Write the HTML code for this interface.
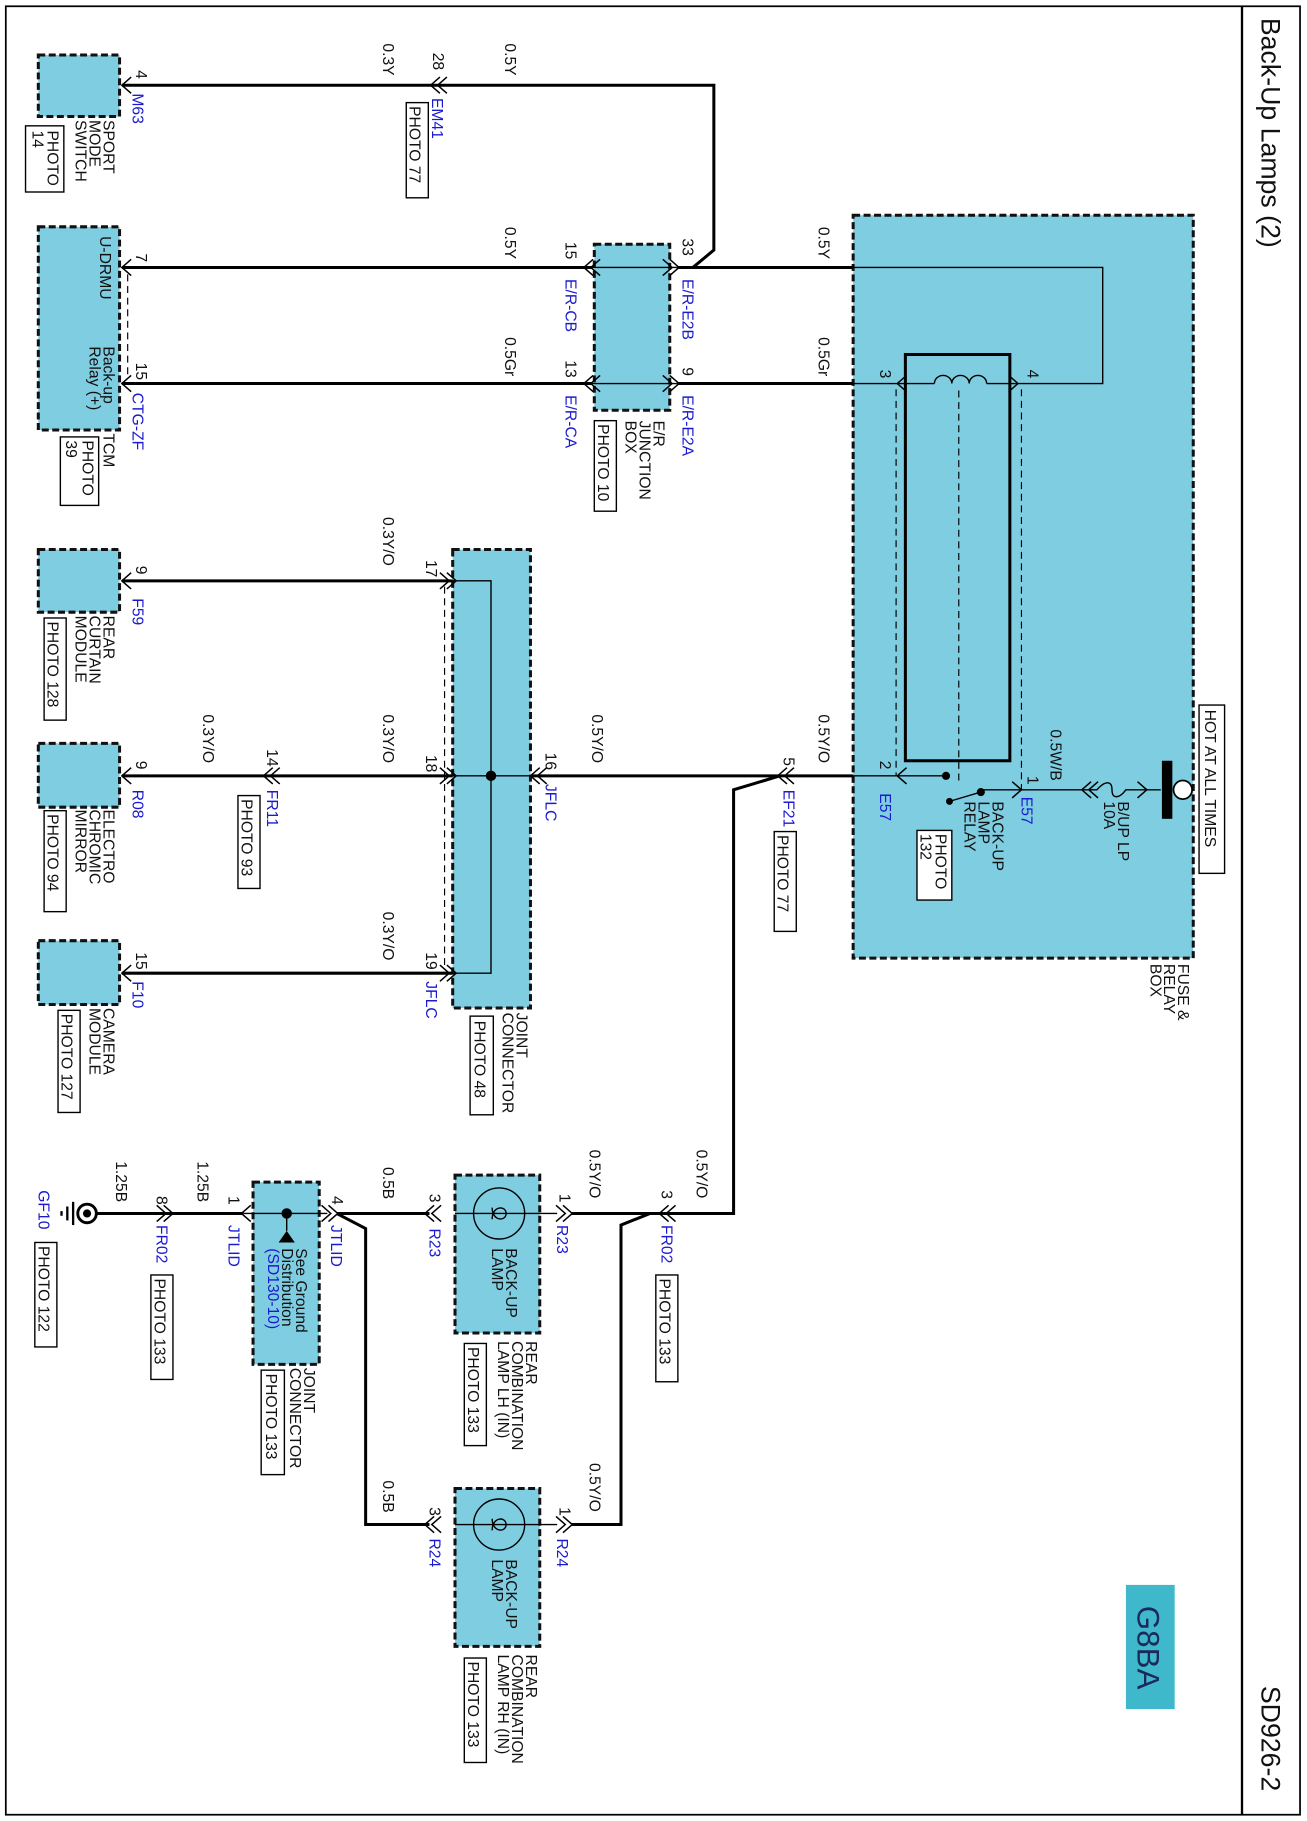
<!DOCTYPE html>
<html><head><meta charset="utf-8"><style>
html,body{margin:0;padding:0;background:#fff}
svg{display:block}
text{font-family:"Liberation Sans",sans-serif;font-size:13.5px;fill:#111}
.b{fill:#1a1ad0}
.box{fill:#7fcde1;stroke:#111;stroke-width:2.6;stroke-dasharray:6,3}
.w{fill:none;stroke:#000;stroke-width:2.6}
.t{fill:none;stroke:#000;stroke-width:1.2}
.d{fill:none;stroke:#000;stroke-width:1;stroke-dasharray:6,4}
.pb{fill:#fff;stroke:#000;stroke-width:1.2}
</style></head><body>
<svg width="1307" height="1821" viewBox="0 0 1126 1568" xmlns="http://www.w3.org/2000/svg">
<defs>
<path id="sl" d="M8,-7 L0,0 L8,7" fill="none" stroke="#000" stroke-width="1.3"/>
<path id="sr" d="M-8,-7 L0,0 L-8,7" fill="none" stroke="#000" stroke-width="1.3"/>
<path id="cl" d="M8,-7 L0,0 L8,7 M14,-7 L6,0 L14,7" fill="none" stroke="#000" stroke-width="1.3"/>
<path id="cr" d="M-8,-7 L0,0 L-8,7 M-14,-7 L-6,0 L-14,7" fill="none" stroke="#000" stroke-width="1.3"/>
</defs>
<rect x="5" y="5" width="1115" height="1558" fill="none" stroke="#000" stroke-width="1.5"/>
<line x1="1070" y1="5" x2="1070" y2="1563" stroke="#000" stroke-width="2"/>
<text transform="translate(1087,15) rotate(90)" style="font-size:23px">Back-Up Lamps (2)</text>
<text transform="translate(1087,1452) rotate(90)" style="font-size:23px">SD926-2</text>
<rect x="970" y="1365" width="42" height="107" fill="#3fb8cc"/>
<text transform="translate(980,1383) rotate(90)" style="font-size:27px;fill:#1a2a5a">G8BA</text>

<rect class="box" x="735" y="185" width="293" height="640"/>
<rect class="box" x="512" y="210" width="65" height="143"/>
<rect class="box" x="33" y="47" width="70" height="53"/>
<rect class="box" x="33" y="195" width="70" height="175"/>
<rect class="box" x="33" y="473" width="70" height="54"/>
<rect class="box" x="33" y="640" width="70" height="55"/>
<rect class="box" x="33" y="810" width="70" height="55"/>
<rect class="box" x="390" y="473" width="67" height="395"/>
<rect class="box" x="392" y="1012" width="73" height="136"/>
<rect class="box" x="392" y="1282" width="73" height="136"/>
<rect class="box" x="218" y="1018" width="57" height="157"/>

<path class="w" d="M105 73 L615 73 L615 215 L597 230"/>
<line class="w" x1="105" y1="230" x2="510" y2="230"/>
<line class="w" x1="583" y1="230" x2="735" y2="230"/>
<line class="w" x1="105" y1="330" x2="510" y2="330"/>
<line class="w" x1="583" y1="330" x2="735" y2="330"/>
<line class="t" x1="510" y1="230" x2="583" y2="230"/>
<line class="t" x1="510" y1="330" x2="583" y2="330"/>
<line class="d" x1="110" y1="236" x2="110" y2="324"/>
<path class="t" d="M735 230 L950 230 L950 330 L875 330"/>
<line class="t" x1="735" y1="330" x2="805" y2="330"/>
<line class="t" x1="850" y1="330" x2="875" y2="330"/>
<path class="t" d="M805 330 a7.5 7 0 0 1 15 0 a7.5 7 0 0 1 15 0 a7.5 7 0 0 1 15 0"/>
<rect x="780" y="305" width="90" height="350" fill="none" stroke="#000" stroke-width="2.6"/>
<line class="d" x1="772" y1="335" x2="772" y2="668"/>
<line class="d" x1="880" y1="335" x2="880" y2="680"/>
<line class="d" x1="826" y1="336" x2="826" y2="672"/>
<line class="t" x1="775" y1="668" x2="815" y2="668"/>
<line class="t" x1="818" y1="690" x2="845" y2="682"/>
<line class="t" x1="845" y1="680" x2="878" y2="680"/>
<circle cx="815" cy="668" r="3.5"/><circle cx="845" cy="682" r="3.5"/><circle cx="818" cy="690" r="3"/>
<line class="t" x1="878" y1="680" x2="930" y2="680"/>
<path class="t" d="M930 680 L945 680 C952 672 958 672 958 680 C958 688 964 688 970 680 L1000 680"/>
<use href="#cl" x="932" y="680"/><use href="#sr" x="988" y="680"/>
<rect x="1001" y="655" width="9" height="50" fill="#000"/>
<circle cx="1019" cy="680" r="8" fill="#fff" stroke="#000" stroke-width="1.5"/>
<line class="w" x1="105" y1="668" x2="390" y2="668"/>
<line class="w" x1="457" y1="668" x2="735" y2="668"/>
<line class="t" x1="735" y1="668" x2="775" y2="668"/>
<line class="t" x1="390" y1="668" x2="457" y2="668"/>
<line class="w" x1="105" y1="500" x2="390" y2="500"/>
<line class="w" x1="105" y1="838" x2="390" y2="838"/>
<path class="t" d="M385 500 L423 500 L423 838 L385 838"/>
<line class="d" x1="383" y1="505" x2="383" y2="833"/>
<circle cx="423" cy="668" r="4.5"/>
<path class="w" d="M672 668 L632 680 L632 1045 L572 1045"/>
<path class="w" d="M572 1045 L492 1045"/>
<path class="w" d="M560 1045 L535 1055 L535 1313 L492 1313"/>
<line class="t" x1="392" y1="1045" x2="480" y2="1045"/>
<line class="t" x1="392" y1="1313" x2="480" y2="1313"/>
<circle cx="430" cy="1045" r="22" fill="none" stroke="#000" stroke-width="1.2"/>
<circle cx="430" cy="1313" r="22" fill="none" stroke="#000" stroke-width="1.2"/>
<path class="t" d="M424 1040 C424 1052 436 1052 436 1045 C436 1038 424 1038 424 1050"/>
<path class="t" d="M424 1308 C424 1320 436 1320 436 1313 C436 1306 424 1306 424 1318"/>
<line class="w" x1="370" y1="1045" x2="290" y2="1045"/>
<path class="w" d="M290 1045 L315 1058 L315 1313 L370 1313"/>
<line class="t" x1="210" y1="1045" x2="282" y2="1045"/>
<circle cx="247" cy="1045" r="4.5"/>
<line class="t" x1="247" y1="1045" x2="247" y2="1060"/>
<path d="M247 1060 L240 1070 L254 1070 Z" fill="#000"/>
<line class="w" x1="83" y1="1045" x2="210" y2="1045"/>
<circle cx="75" cy="1045" r="8" fill="#fff" stroke="#000" stroke-width="2.5"/>
<circle cx="75" cy="1045" r="3.5"/>
<line x1="63" y1="1035" x2="63" y2="1055" stroke="#000" stroke-width="2"/>
<line x1="58" y1="1039" x2="58" y2="1051" stroke="#000" stroke-width="2"/>
<line x1="53" y1="1043" x2="53" y2="1047" stroke="#000" stroke-width="2"/>

<use href="#sl" x="105" y="73"/><use href="#cl" x="371" y="73"/>
<use href="#sl" x="105" y="230"/><use href="#sl" x="105" y="330"/>
<use href="#cl" x="503" y="230"/><use href="#cl" x="503" y="330"/>
<use href="#cr" x="585" y="230"/><use href="#cr" x="585" y="330"/>
<use href="#sl" x="773" y="330"/><use href="#sr" x="877" y="330"/>
<use href="#sl" x="773" y="668"/><use href="#sr" x="880" y="680"/>
<use href="#cl" x="670" y="668"/><use href="#cl" x="457" y="668"/>
<use href="#cr" x="393" y="500"/><use href="#cr" x="393" y="668"/><use href="#cr" x="393" y="838"/>
<use href="#cl" x="227" y="668"/>
<use href="#sl" x="105" y="500"/><use href="#sl" x="105" y="668"/><use href="#sl" x="105" y="838"/>
<use href="#cl" x="568" y="1045"/><use href="#cr" x="493" y="1045"/><use href="#cl" x="366" y="1045"/>
<use href="#cr" x="493" y="1313"/><use href="#cl" x="366" y="1313"/>
<use href="#cr" x="291" y="1045"/><use href="#sl" x="208" y="1045"/><use href="#cr" x="149" y="1045"/>

<g>
<text transform="translate(330,37) rotate(90)">0.3Y</text>
<text transform="translate(373,45) rotate(90)">28</text>
<text transform="translate(435,37) rotate(90)">0.5Y</text>
<text transform="translate(117,60) rotate(90)">4</text>
<text class="b" transform="translate(114,80) rotate(90)">M63</text>
<text class="b" transform="translate(372,84) rotate(90)">EM41</text>
<rect class="pb" x="350" y="88" width="19" height="82"/>
<text transform="translate(353,91) rotate(90)">PHOTO 77</text>
<text transform="translate(89,103) rotate(90)">SPORT</text>
<text transform="translate(77,103) rotate(90)">MODE</text>
<text transform="translate(65,103) rotate(90)">SWITCH</text>
<rect class="pb" x="22" y="108" width="33" height="57"/>
<text transform="translate(41,112) rotate(90)">PHOTO</text>
<text transform="translate(28,112) rotate(90)">14</text>

<text transform="translate(86,203) rotate(90)">U-DRMU</text>
<text transform="translate(89,298) rotate(90)">Back-up</text>
<text transform="translate(77,298) rotate(90)">Relay (+)</text>
<text transform="translate(117,218) rotate(90)">7</text>
<text transform="translate(117,312) rotate(90)">15</text>
<text class="b" transform="translate(114,338) rotate(90)">CTG-ZF</text>
<text transform="translate(89,373) rotate(90)">TCM</text>
<rect class="pb" x="52" y="376" width="33" height="59"/>
<text transform="translate(71,379) rotate(90)">PHOTO</text>
<text transform="translate(57,379) rotate(90)">39</text>

<text transform="translate(435,195) rotate(90)">0.5Y</text>
<text transform="translate(435,290) rotate(90)">0.5Gr</text>
<text transform="translate(487,208) rotate(90)">15</text>
<text class="b" transform="translate(487,240) rotate(90)">E/R-CB</text>
<text transform="translate(487,310) rotate(90)">13</text>
<text class="b" transform="translate(487,340) rotate(90)">E/R-CA</text>
<text transform="translate(588,205) rotate(90)">33</text>
<text class="b" transform="translate(588,240) rotate(90)">E/R-E2B</text>
<text transform="translate(588,316) rotate(90)">9</text>
<text class="b" transform="translate(588,340) rotate(90)">E/R-E2A</text>
<text transform="translate(563,362) rotate(90)">E/R</text>
<text transform="translate(551,362) rotate(90)">JUNCTION</text>
<text transform="translate(539,362) rotate(90)">BOX</text>
<rect class="pb" x="512" y="362" width="19" height="78"/>
<text transform="translate(515,365) rotate(90)">PHOTO 10</text>

<text transform="translate(705,195) rotate(90)">0.5Y</text>
<text transform="translate(705,290) rotate(90)">0.5Gr</text>
<text transform="translate(758,318) rotate(90)">3</text>
<text transform="translate(885,318) rotate(90)">4</text>
<text transform="translate(758,655) rotate(90)">2</text>
<text class="b" transform="translate(758,683) rotate(90)">E57</text>
<text transform="translate(885,668) rotate(90)">1</text>
<text class="b" transform="translate(880,686) rotate(90)">E57</text>
<text transform="translate(905,628) rotate(90)">0.5W/B</text>
<text transform="translate(963,690) rotate(90)">B/UP LP</text>
<text transform="translate(951,690) rotate(90)">10A</text>
<rect class="pb" x="1033" y="607" width="22" height="145"/>
<text transform="translate(1038,611) rotate(90)">HOT AT ALL TIMES</text>
<text transform="translate(1015,830) rotate(90)">FUSE &amp;</text>
<text transform="translate(1003,830) rotate(90)">RELAY</text>
<text transform="translate(991,830) rotate(90)">BOX</text>
<text transform="translate(855,690) rotate(90)">BACK-UP</text>
<text transform="translate(843,690) rotate(90)">LAMP</text>
<text transform="translate(831,690) rotate(90)">RELAY</text>
<rect class="pb" x="790" y="715" width="30" height="60"/>
<text transform="translate(806,718) rotate(90)">PHOTO</text>
<text transform="translate(793,718) rotate(90)">132</text>
<text transform="translate(705,615) rotate(90)">0.5Y/O</text>
<text transform="translate(675,652) rotate(90)">5</text>
<text class="b" transform="translate(675,680) rotate(90)">EF21</text>
<rect class="pb" x="667" y="716" width="19" height="86"/>
<text transform="translate(670,719) rotate(90)">PHOTO 77</text>

<text transform="translate(510,615) rotate(90)">0.5Y/O</text>
<text transform="translate(470,648) rotate(90)">16</text>
<text class="b" transform="translate(470,675) rotate(90)">JFLC</text>
<text transform="translate(367,482) rotate(90)">17</text>
<text transform="translate(367,650) rotate(90)">18</text>
<text transform="translate(367,820) rotate(90)">19</text>
<text class="b" transform="translate(367,845) rotate(90)">JFLC</text>
<text transform="translate(330,445) rotate(90)">0.3Y/O</text>
<text transform="translate(330,615) rotate(90)">0.3Y/O</text>
<text transform="translate(330,785) rotate(90)">0.3Y/O</text>
<text transform="translate(445,872) rotate(90)">JOINT</text>
<text transform="translate(433,872) rotate(90)">CONNECTOR</text>
<rect class="pb" x="405" y="875" width="20" height="85"/>
<text transform="translate(409,879) rotate(90)">PHOTO 48</text>

<text transform="translate(117,487) rotate(90)">9</text>
<text class="b" transform="translate(114,515) rotate(90)">F59</text>
<text transform="translate(89,530) rotate(90)">REAR</text>
<text transform="translate(77,530) rotate(90)">CURTAIN</text>
<text transform="translate(65,530) rotate(90)">MODULE</text>
<rect class="pb" x="38" y="532" width="19" height="88"/>
<text transform="translate(41,535) rotate(90)">PHOTO 128</text>

<text transform="translate(230,645) rotate(90)">14</text>
<text class="b" transform="translate(230,680) rotate(90)">FR11</text>
<rect class="pb" x="205" y="685" width="19" height="80"/>
<text transform="translate(208,688) rotate(90)">PHOTO 93</text>
<text transform="translate(175,615) rotate(90)">0.3Y/O</text>
<text transform="translate(117,655) rotate(90)">9</text>
<text class="b" transform="translate(114,680) rotate(90)">R08</text>
<text transform="translate(89,697) rotate(90)">ELECTRO</text>
<text transform="translate(77,697) rotate(90)">CHROMIC</text>
<text transform="translate(65,697) rotate(90)">MIRROR</text>
<rect class="pb" x="38" y="698" width="19" height="87"/>
<text transform="translate(41,701) rotate(90)">PHOTO 94</text>

<text transform="translate(117,820) rotate(90)">15</text>
<text class="b" transform="translate(114,845) rotate(90)">F10</text>
<text transform="translate(89,868) rotate(90)">CAMERA</text>
<text transform="translate(77,868) rotate(90)">MODULE</text>
<rect class="pb" x="50" y="870" width="19" height="88"/>
<text transform="translate(53,873) rotate(90)">PHOTO 127</text>

<text transform="translate(600,990) rotate(90)">0.5Y/O</text>
<text transform="translate(570,1025) rotate(90)">3</text>
<text class="b" transform="translate(570,1055) rotate(90)">FR02</text>
<rect class="pb" x="565" y="1098" width="19" height="92"/>
<text transform="translate(568,1101) rotate(90)">PHOTO 133</text>
<text transform="translate(508,990) rotate(90)">0.5Y/O</text>
<text transform="translate(482,1028) rotate(90)">1</text>
<text class="b" transform="translate(480,1055) rotate(90)">R23</text>
<text transform="translate(436,1075) rotate(90)">BACK-UP</text>
<text transform="translate(424,1075) rotate(90)">LAMP</text>
<text transform="translate(453,1155) rotate(90)">REAR</text>
<text transform="translate(441,1155) rotate(90)">COMBINATION</text>
<text transform="translate(429,1155) rotate(90)">LAMP LH (IN)</text>
<rect class="pb" x="400" y="1157" width="19" height="88"/>
<text transform="translate(403,1160) rotate(90)">PHOTO 133</text>
<text transform="translate(330,1005) rotate(90)">0.5B</text>
<text transform="translate(370,1028) rotate(90)">3</text>
<text class="b" transform="translate(370,1058) rotate(90)">R23</text>
<text transform="translate(286,1030) rotate(90)">4</text>
<text class="b" transform="translate(285,1055) rotate(90)">JTLID</text>
<text transform="translate(197,1030) rotate(90)">1</text>
<text class="b" transform="translate(197,1055) rotate(90)">JTLID</text>
<text transform="translate(255,1075) rotate(90)">See Ground</text>
<text transform="translate(243,1075) rotate(90)">Distribution</text>
<text class="b" transform="translate(231,1075) rotate(90)">(SD130-10)</text>
<text transform="translate(262,1178) rotate(90)">JOINT</text>
<text transform="translate(250,1178) rotate(90)">CONNECTOR</text>
<rect class="pb" x="225" y="1180" width="20" height="90"/>
<text transform="translate(229,1183) rotate(90)">PHOTO 133</text>
<text transform="translate(170,1000) rotate(90)">1.25B</text>
<text transform="translate(135,1030) rotate(90)">8</text>
<text class="b" transform="translate(135,1055) rotate(90)">FR02</text>
<rect class="pb" x="130" y="1098" width="19" height="90"/>
<text transform="translate(133,1101) rotate(90)">PHOTO 133</text>
<text transform="translate(100,1000) rotate(90)">1.25B</text>
<text class="b" transform="translate(33,1025) rotate(90)">GF10</text>
<rect class="pb" x="30" y="1070" width="19" height="90"/>
<text transform="translate(33,1073) rotate(90)">PHOTO 122</text>

<text transform="translate(508,1260) rotate(90)">0.5Y/O</text>
<text transform="translate(482,1298) rotate(90)">1</text>
<text class="b" transform="translate(480,1325) rotate(90)">R24</text>
<text transform="translate(330,1275) rotate(90)">0.5B</text>
<text transform="translate(370,1298) rotate(90)">3</text>
<text class="b" transform="translate(370,1325) rotate(90)">R24</text>
<text transform="translate(436,1343) rotate(90)">BACK-UP</text>
<text transform="translate(424,1343) rotate(90)">LAMP</text>
<text transform="translate(453,1425) rotate(90)">REAR</text>
<text transform="translate(441,1425) rotate(90)">COMBINATION</text>
<text transform="translate(429,1425) rotate(90)">LAMP RH (IN)</text>
<rect class="pb" x="400" y="1428" width="19" height="90"/>
<text transform="translate(403,1431) rotate(90)">PHOTO 133</text>
</g>
</svg>
</body></html>
